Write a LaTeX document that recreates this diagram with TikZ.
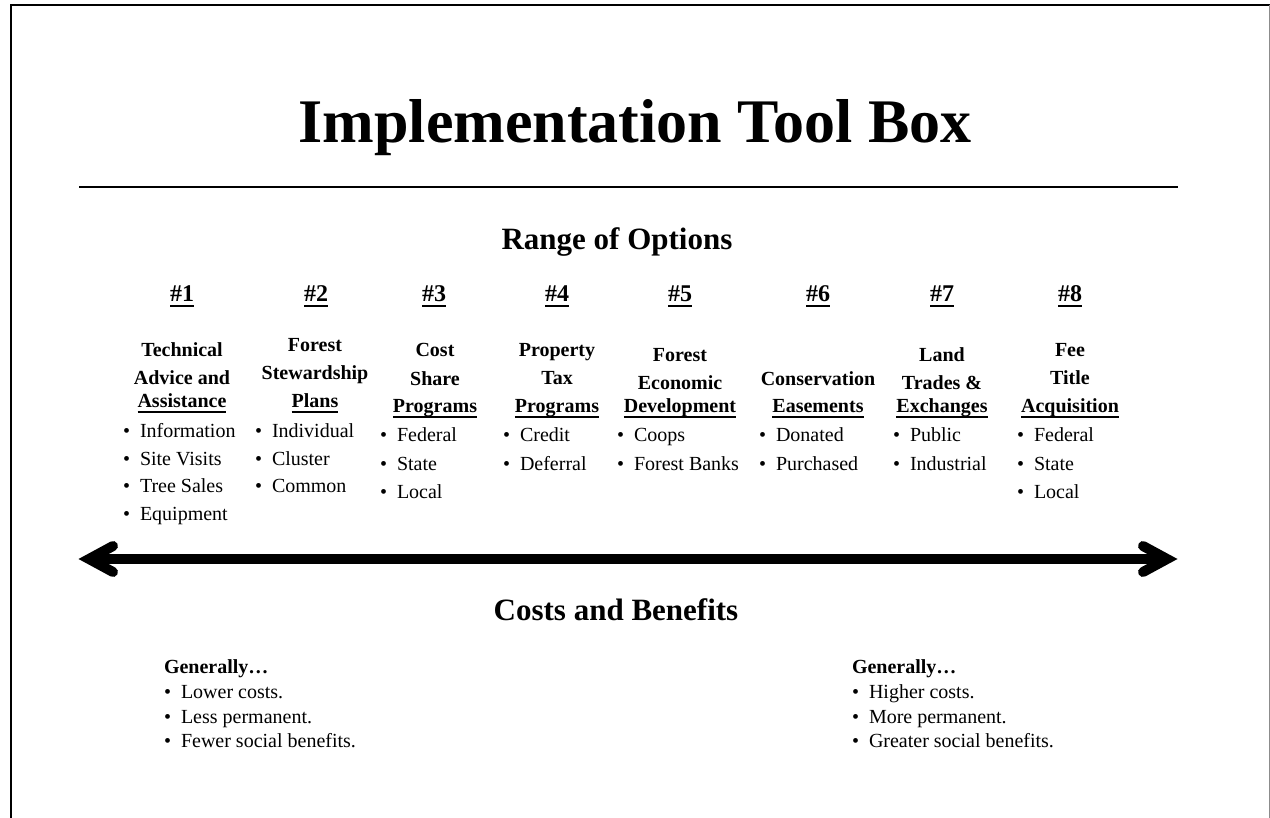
\documentclass[tikz,border=0pt]{standalone}
\usepackage{fontspec}
\setmainfont{Liberation Serif}
\newcommand\myfs[2]{\fontsize{#1}{#2}\selectfont}
\newcommand\bul{\textbullet\hspace{10pt}}
\newcommand\myul[1]{\leavevmode\setbox0\hbox{#1}\rlap{\vrule width\wd0 height -3pt depth 4.8pt}\box0}
\begin{document}
\begin{tikzpicture}[x=1pt,y=-1pt,
  every node/.style={inner sep=0pt, outer sep=0pt},
  titletext/.style={font=\bfseries\myfs{62}{70}, anchor=base},
  subtext/.style={font=\bfseries\myfs{31}{36}, anchor=base},
  numtext/.style={font=\bfseries\myfs{24}{28}, anchor=base},
  headtext/.style={font=\bfseries\myfs{20}{24}, anchor=base},
  itemtext/.style={font=\myfs{20}{24}, anchor=base west},
  gentext/.style={font=\bfseries\myfs{20}{24}, anchor=base west},
  frameline/.style={line width=2pt, black},
  arrowline/.style={line width=10pt, line cap=round, line join=miter}]
\useasboundingbox (0,0) rectangle (1270,818);
% frame
\coordinate (fTL) at (11,5);
\coordinate (fTR) at (1270,5);
\coordinate (fBL) at (11,818);
\coordinate (rT) at (1269,5);
\coordinate (rB) at (1269,818);
\draw[frameline] (fBL) -- (fTL) -- (fTR);
\draw[line width=1pt, black!45] (rT) -- (rB);
% title
\node[titletext] (title) at (635,143) {Implementation Tool Box};
\coordinate (ruleL) at (79,187);
\coordinate (ruleR) at (1178,187);
\draw[line width=1.5pt] (ruleL) -- (ruleR);
\node[subtext] (range) at (617,250) {Range of Options};
% numbers
\foreach \x/\n in {182/1,316/2,434/3,557/4,680/5,818/6,942/7,1070/8}
  \node[numtext] (num\n) at (\x,302) {\myul{\#\n}};
% headings
\foreach \x/\y/\t/\nm in {
  182/357/Technical/h1a, 182/385/Advice and/h1b, 182/408/{\myul{Assistance}}/h1c,
  315/352/Forest/h2a, 315/380/Stewardship/h2b, 315/408/{\myul{Plans}}/h2c,
  435/357/Cost/h3a, 435/386/Share/h3b, 435/413/{\myul{Programs}}/h3c,
  557/357/Property/h4a, 557/385/Tax/h4b, 557/413/{\myul{Programs}}/h4c,
  680/362/Forest/h5a, 680/390/Economic/h5b, 680/413/{\myul{Development}}/h5c,
  818/386/Conservation/h6a, 818/413/{\myul{Easements}}/h6b,
  942/362/Land/h7a, 942/390/Trades \&/h7b, 942/413/{\myul{Exchanges}}/h7c,
  1070/357/Fee/h8a, 1070/385/Title/h8b, 1070/413/{\myul{Acquisition}}/h8c}
  \node[headtext] (\nm) at (\x,\y) {\t};
% bullet items
\foreach \x/\y/\t/\nm in {
  123/437/Information/i1a, 123/465/Site Visits/i1b, 123/492/Tree Sales/i1c, 123/520/Equipment/i1d,
  255/437/Individual/i2a, 255/465/Cluster/i2b, 255/492/Common/i2c,
  380/442/Federal/i3a, 380/470/State/i3b, 380/498/Local/i3c,
  503/442/Credit/i4a, 503/470/Deferral/i4b,
  617/442/Coops/i5a, 617/470/Forest Banks/i5b,
  759/442/Donated/i6a, 759/470/Purchased/i6b,
  893/442/Public/i7a, 893/470/Industrial/i7b,
  1017/442/Federal/i8a, 1017/470/State/i8b, 1017/498/Local/i8c}
  \node[itemtext] (\nm) at (\x,\y) {\bul\t};
% double arrow
\coordinate (aL) at (89,559);
\coordinate (aR) at (1167,559);
\coordinate (aL1) at (113,546);
\coordinate (aL2) at (113,572);
\coordinate (aR1) at (1143,546);
\coordinate (aR2) at (1143,572);
\draw[line width=10pt] (aL) -- (aR);
\draw[arrowline] (aL1) -- (aL) -- (aL2);
\draw[arrowline] (aR1) -- (aR) -- (aR2);
% costs and benefits
\node[subtext] (costs) at (616,620) {Costs and Benefits};
\node[gentext] (genL) at (164,673) {Generally…};
\node[itemtext] (l1) at (164,698) {\bul Lower costs.};
\node[itemtext] (l2) at (164,723) {\bul Less permanent.};
\node[itemtext] (l3) at (164,747) {\bul Fewer social benefits.};
\node[gentext] (genR) at (852,673) {Generally…};
\node[itemtext] (r1) at (852,698) {\bul Higher costs.};
\node[itemtext] (r2) at (852,723) {\bul More permanent.};
\node[itemtext] (r3) at (852,747) {\bul Greater social benefits.};
\end{tikzpicture}
\end{document}
